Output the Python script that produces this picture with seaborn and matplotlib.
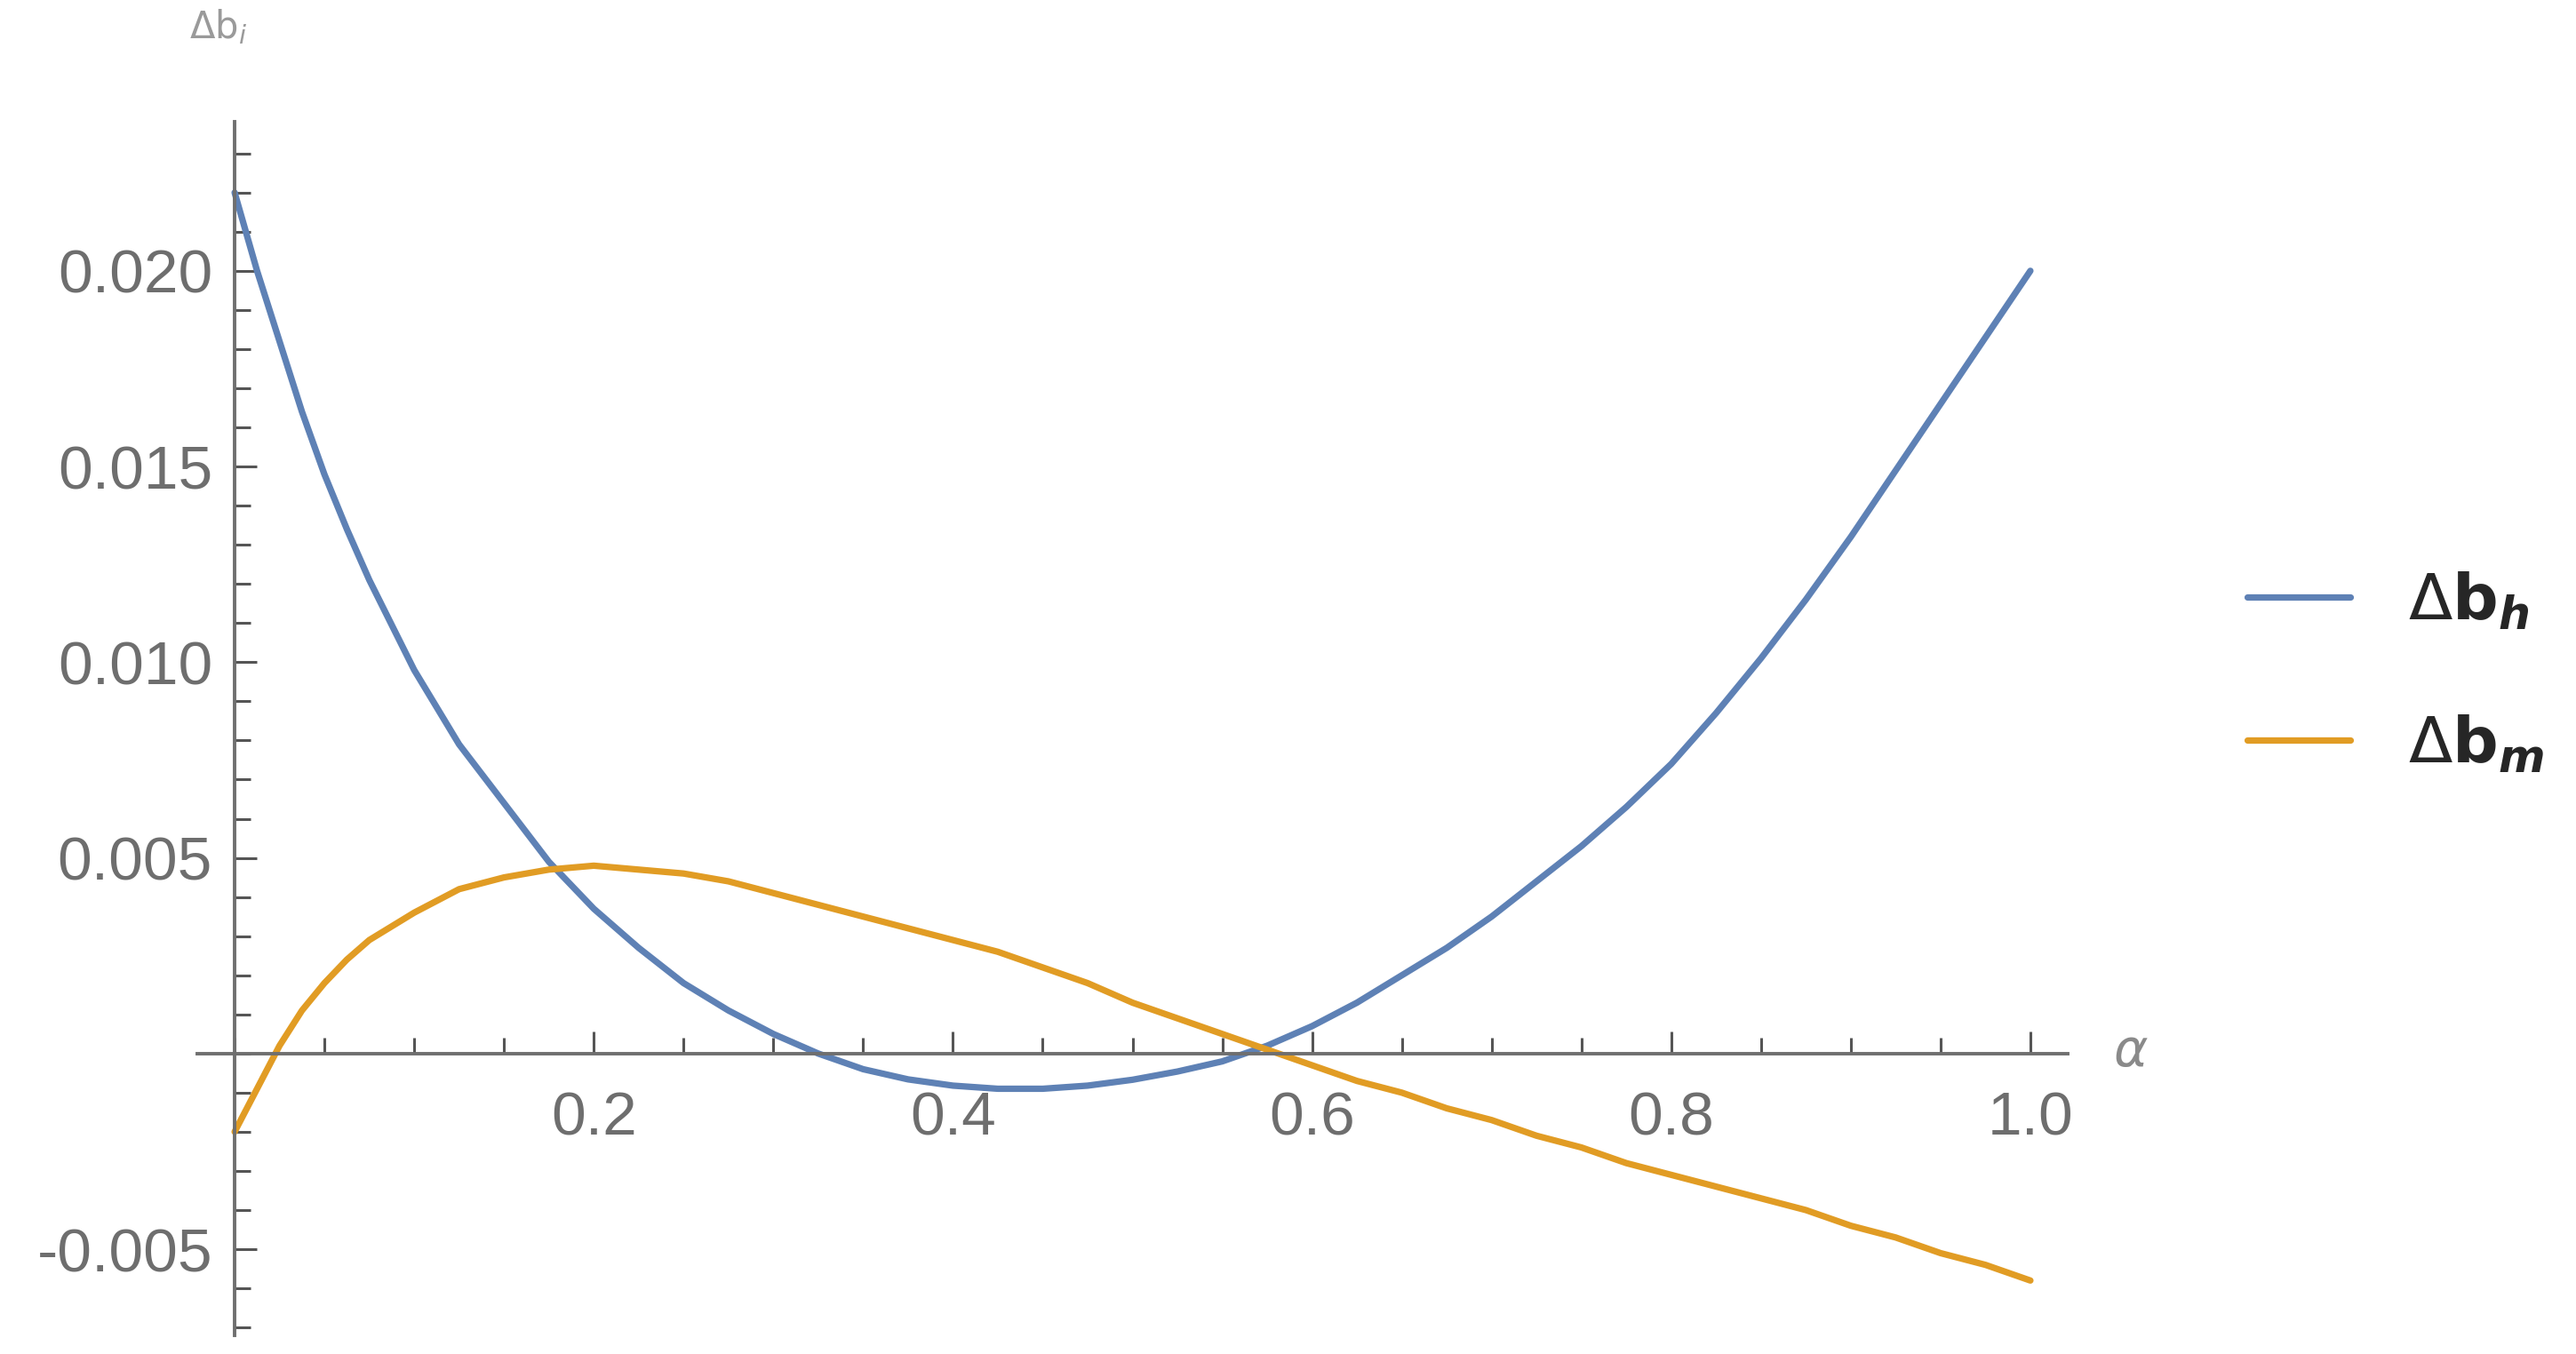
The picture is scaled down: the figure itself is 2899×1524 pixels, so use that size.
import pandas as pd
import seaborn as sns
import matplotlib.pyplot as plt
from matplotlib.ticker import MultipleLocator

# values
alpha = [0.0, 0.0125, 0.025, 0.0375, 0.05, 0.0625, 0.075, 0.1, 0.125, 0.15, 0.175,
         0.2, 0.225, 0.25, 0.275, 0.3, 0.325, 0.35, 0.375, 0.4, 0.425, 0.45,
         0.475, 0.5, 0.525, 0.55, 0.575, 0.6, 0.625, 0.65, 0.675, 0.7, 0.725,
         0.75, 0.775, 0.8, 0.825, 0.85, 0.875, 0.9, 0.925, 0.95, 0.975, 1.0]

db_h = [0.0220, 0.0200, 0.0182, 0.0164, 0.0148, 0.0134, 0.0121, 0.0098, 0.0079,
        0.0064, 0.0049, 0.0037, 0.0027, 0.0018, 0.0011, 0.0005, 0.0000, -0.0004,
        -0.00066, -0.00082, -0.0009, -0.0009, -0.00082, -0.00067, -0.00046,
        -0.0002, 0.0002, 0.0007, 0.0013, 0.0020, 0.0027, 0.0035, 0.0044, 0.0053,
        0.0063, 0.0074, 0.0087, 0.0101, 0.0116, 0.0132, 0.0149, 0.0166, 0.0183,
        0.0200]

db_m = [-0.0020, -0.0009, 0.0002, 0.0011, 0.0018, 0.0024, 0.0029, 0.0036, 0.0042,
        0.0045, 0.0047, 0.0048, 0.0047, 0.0046, 0.0044, 0.0041, 0.0038, 0.0035,
        0.0032, 0.0029, 0.0026, 0.0022, 0.0018, 0.0013, 0.0009, 0.0005, 0.0001,
        -0.0003, -0.0007, -0.0010, -0.0014, -0.0017, -0.0021, -0.0024, -0.0028,
        -0.0031, -0.0034, -0.0037, -0.0040, -0.0044, -0.0047, -0.0051, -0.0054,
        -0.0058]

series_names = [r'$\Delta\mathbf{b}_{\mathbfit{h}}$', r'$\Delta\mathbf{b}_{\mathbfit{m}}$']
colors = ['#5E81B5', '#E19C24']

x_ticks = [0.2, 0.4, 0.6, 0.8, 1.0]
x_labels = ['0.2', '0.4', '0.6', '0.8', '1.0']
y_ticks = [-0.005, 0.005, 0.010, 0.015, 0.020]
y_labels = ['-0.005', '0.005', '0.010', '0.015', '0.020']

df = pd.DataFrame({'alpha': alpha, series_names[0]: db_h, series_names[1]: db_m})
df_long = df.melt(id_vars='alpha', var_name='series', value_name='db')

sns.set_style('white')
plt.rcParams['font.family'] = ['Liberation Sans', 'DejaVu Sans']

fig = plt.figure(figsize=(28.99, 15.24), dpi=100)
ax = fig.add_axes([0.07658, 0.0138, 0.72611, 0.8963])

sns.lineplot(data=df_long, x='alpha', y='db', hue='series', palette=colors,
             linewidth=5.2, ax=ax, legend=True)

ax.set_xlim(-0.0208, 1.0208)
ax.set_ylim(-0.0072, 0.02381)

axis_col = '#6f6f6f'
for side in ['top', 'right']:
    ax.spines[side].set_visible(False)
for side in ['left', 'bottom']:
    ax.spines[side].set_position(('data', 0))
    ax.spines[side].set_color(axis_col)
    ax.spines[side].set_linewidth(2.8)

ax.set_xticks(x_ticks, labels=x_labels)
ax.set_yticks(y_ticks, labels=y_labels)
ax.xaxis.set_minor_locator(MultipleLocator(0.05))
ax.yaxis.set_minor_locator(MultipleLocator(0.001))
ax.tick_params(which='both', bottom=True, left=True, top=False, right=False)
ax.tick_params(which='major', direction='in', length=18, width=2.2, color='#555555',
               labelsize=50, labelcolor='#6e6e6e')
ax.tick_params(which='minor', direction='in', length=13, width=2.2, color='#555555')
ax.tick_params(axis='x', which='major', pad=30)
ax.tick_params(axis='y', which='major', pad=18)
ax.set_xlabel('')
ax.set_ylabel('')

fig.text(246 / 2899, 1 - 30 / 1524, r'$\Delta\mathrm{b}_i$', color='#9a9a9a',
         fontsize=30, ha='center', va='center')
fig.text(2398 / 2899, 1 - 1185 / 1524, r'$\alpha$', color='#8a8a8a',
         fontsize=42, ha='center', va='center')

handles, labels = ax.get_legend_handles_labels()
ax.legend(handles, labels, loc='center left', bbox_to_anchor=(2529 / 2899, 1 - 758 / 1524),
          bbox_transform=fig.transFigure, frameon=False, fontsize=52,
          handlelength=1.6, handletextpad=0.9, labelspacing=1.26,
          borderpad=0, borderaxespad=0)

fig.savefig('out.png', dpi=100)
